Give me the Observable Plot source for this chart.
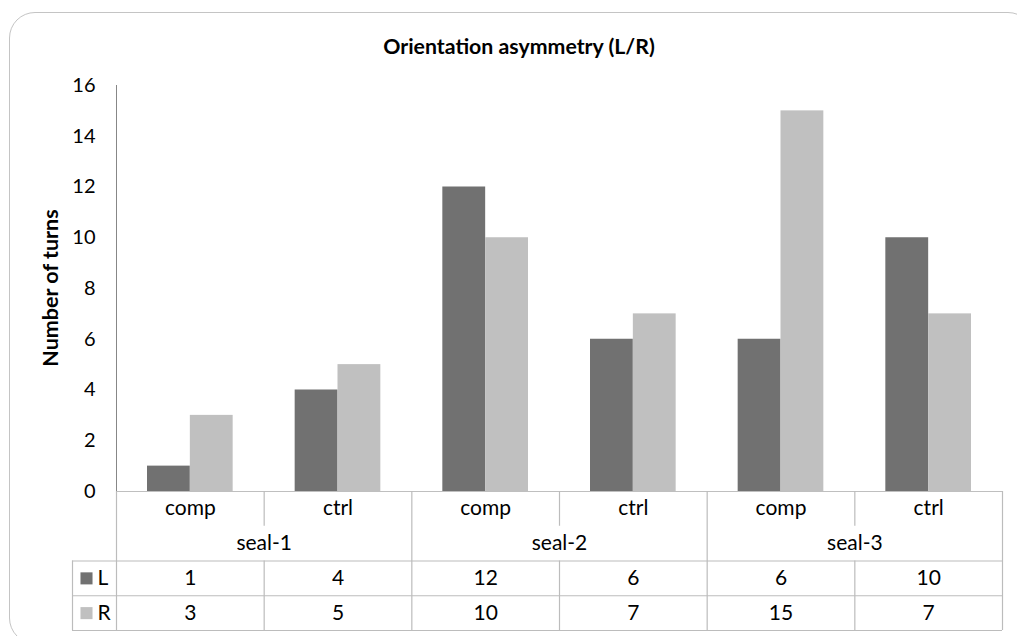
<!DOCTYPE html>
<html><head><meta charset="utf-8">
<script src="https://cdn.jsdelivr.net/npm/d3@7"></script>
<script src="https://cdn.jsdelivr.net/npm/@observablehq/plot@0.6"></script>
<style>
html,body{margin:0;padding:0;background:#fff;}
#wrap{position:relative;width:1017px;height:636px;overflow:hidden;font-family:Lato,sans-serif;}
#frame{position:absolute;left:9px;top:12px;width:1025px;height:632px;border:1.5px solid #c4c4c4;border-radius:26px;box-sizing:border-box;}
#title{position:absolute;left:0;width:1038px;top:33px;text-align:center;font-weight:bold;font-size:21.3px;line-height:26px;color:#000;}
#ylabel{position:absolute;left:50px;top:288px;width:0;height:0;}
#ylabel span{position:absolute;left:0;top:0;transform:translate(-50%,-50%) rotate(-90deg);white-space:nowrap;font-weight:bold;font-size:21.5px;line-height:24px;color:#000;}
#chart{position:absolute;left:0;top:0;}
#table{position:absolute;left:0;top:491px;}
svg text{fill:#000;}
</style></head><body>
<div id="wrap"><div id="frame"></div><div id="title"></div><div id="chart"></div><div id="table"></div><div id="ylabel"><span></span></div></div>
<script>
const chartTitle = "Orientation asymmetry (L/R)";
const yLabel = "Number of turns";
const groups = ["seal-1", "seal-2", "seal-3"];
const conditions = ["comp", "ctrl"];
const seriesNames = ["L", "R"];
const valuesL = [1, 4, 12, 6, 6, 10];
const valuesR = [3, 5, 10, 7, 15, 7];
const yTicks = [0, 2, 4, 6, 8, 10, 12, 14, 16];
const seriesColors = ["#717171", "#c0c0c0"];

document.getElementById("title").textContent = chartTitle;
document.querySelector("#ylabel span").textContent = yLabel;

const cats = groups.flatMap(g => conditions.map(c => ({group: g, cond: c, key: g + " " + c})));
const rows = cats.flatMap((c, i) => [
  {...c, side: "L", value: valuesL[i], sub: c.key + "|L"},
  {...c, side: "R", value: valuesR[i], sub: c.key + "|R"}
]);

const W = 1017, ML = 116, MR = 15, FS = 21;
const font = {fontFamily: "Lato, sans-serif", fontSize: "20px", color: "#878787", background: "transparent"};

const chart = Plot.plot({
  width: W, height: 636, marginTop: 85, marginBottom: 145, marginLeft: ML, marginRight: MR,
  style: font,
  x: {domain: rows.map(d => d.sub), padding: 0, round: false, axis: null},
  y: {domain: [0, 16], ticks: yTicks, tickSize: 0, tickPadding: 21, label: null, line: true},
  color: {domain: seriesNames, range: seriesColors},
  marks: [
    Plot.barY(rows.filter(d => d.side === "L"), {x: "sub", y: "value", fill: "side", insetLeft: 31}),
    Plot.barY(rows.filter(d => d.side === "R"), {x: "sub", y: "value", fill: "side", insetRight: 31}),
    Plot.ruleY([0], {stroke: "#bfbfbf", strokeWidth: 1.2})
  ]
});
document.getElementById("chart").append(chart);

const n = cats.length;
const step = (W - ML - MR) / n;
const LEG = 44 / step;
const per = conditions.length;
const vbounds = d3.range(0, n + 1).flatMap(i => i % per === 0
  ? [{x: i, y1: 0, y2: 4}]
  : [{x: i, y1: 0, y2: 1}, {x: i, y1: 2, y2: 4}]);
vbounds.push({x: -LEG, y1: 2, y2: 4});
const lineColor = "#bcbcbc";

const table = Plot.plot({
  width: W, height: 141, marginTop: 0, marginBottom: 2, marginLeft: 72, marginRight: MR,
  style: font,
  x: {domain: [-LEG, n], axis: null},
  y: {domain: [0, 4], reverse: true, axis: null},
  marks: [
    Plot.ruleX(vbounds, {x: "x", y1: "y1", y2: "y2", stroke: lineColor, strokeWidth: 1.2}),
    Plot.ruleY([2, 3, 4], {x1: -LEG, x2: n, stroke: lineColor, strokeWidth: 1.2}),
    Plot.text(cats, {x: (d, i) => i + 0.5, y: 0.48, text: "cond", fill: "#000", fontSize: FS}),
    Plot.text(groups, {x: (d, i) => i * per + per / 2, y: 1.5, text: d => d, fill: "#000", fontSize: FS}),
    Plot.text(valuesL, {x: (d, i) => i + 0.5, y: 2.5, text: d => String(d), fill: "#000", fontSize: FS}),
    Plot.text(valuesR, {x: (d, i) => i + 0.5, y: 3.5, text: d => String(d), fill: "#000", fontSize: FS}),
    Plot.dot(seriesNames, {x: -LEG, y: (d, i) => 2.5 + i, dx: 14, symbol: "square", r: 6.8, fill: (d, i) => seriesColors[i], stroke: null}),
    Plot.text(seriesNames, {x: -LEG, y: (d, i) => 2.5 + i, dx: 25, textAnchor: "start", text: d => d, fill: "#000", fontSize: FS})
  ]
});
document.getElementById("table").append(table);
</script>
</body></html>
